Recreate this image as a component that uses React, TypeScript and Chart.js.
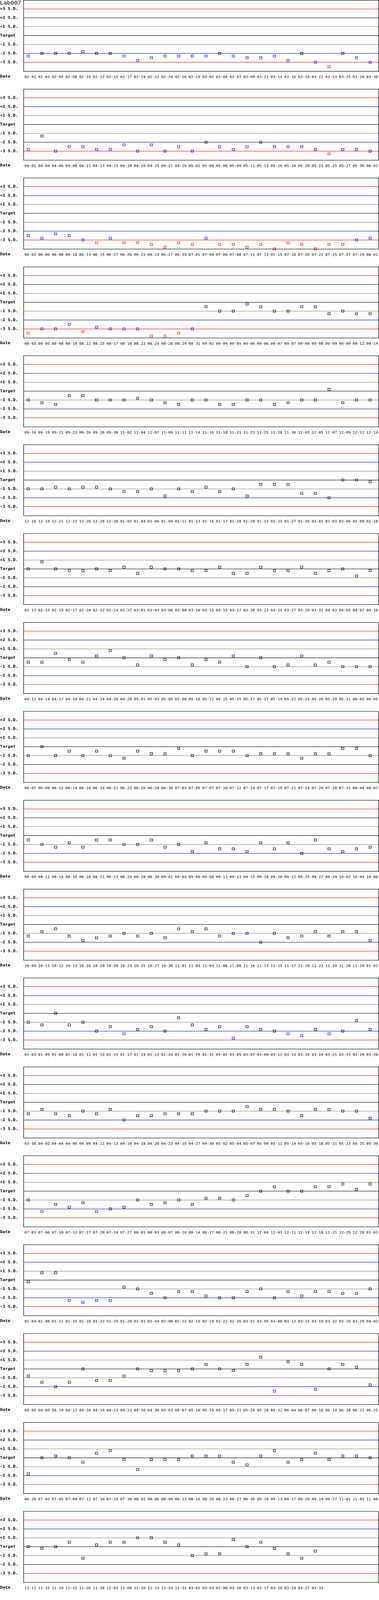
import React, { useEffect, useRef, useState } from 'react';
import { Chart, registerables } from 'chart.js';

Chart.register(...registerables);

// ---------- data ----------
const TITLE = 'Lab007';
const AXIS_NAME = 'Date';
const SLOTS = 26;
const SD_LEVELS = [3, 2, 1, 0, -1, -2, -3];
const SD_LABELS = ['+3 S.D.', '+2 S.D.', '+1 S.D.', 'Target', '-1 S.D.', '-2 S.D.', '-3 S.D.'];

const dates1 = ['02-01','02-03','02-05','02-08','02-10','02-12','02-15','02-17','02-19','02-22','02-24','02-26','02-29','03-02','03-04','03-07','03-09','03-11','03-14','03-16','03-18','03-21','03-23','03-25','03-28','03-30'];
const values1 = [-2.3,-2,-2,-2,-1.8,-2,-2,-2.3,-2.8,-2.5,-2.3,-2.3,-2.3,-2.3,-2,-2.3,-2.5,-2.5,-2.3,-2.8,-2,-3,-3.5,-2,-2.5,-3];

const dates2 = ['04-01','04-04','04-06','04-08','04-11','04-13','04-15','04-18','04-20','04-25','04-27','04-29','05-02','05-04','05-06','05-09','05-11','05-13','05-16','05-18','05-20','05-23','05-25','05-27','05-30','06-01'];
const values2 = [-2.8,-1.3,-3,-2.5,-2.5,-2.8,-2.8,-2.3,-3,-2.3,-3,-2.5,-3,-2,-2.5,-2.8,-2.5,-2,-2.5,-2.5,-2.5,-2.8,-3.3,-2.8,-2.8,-3];

const dates3 = ['06-03','06-06','06-08','06-10','06-13','06-15','06-17','06-20','06-22','06-24','06-27','06-29','07-01','07-04','07-06','07-08','07-11','07-13','07-15','07-18','07-20','07-22','07-25','07-27','07-29','08-01'];
const values3 = [-2.5,-2.8,-2.3,-2.5,-3,-3.3,-2.8,-3.3,-3.3,-3.5,-3.8,-3.3,-3.5,-2.8,-3.5,-3.5,-3.8,-3.5,-4,-3.3,-3.5,-4,-3.5,-3.5,-3,-2.8];

const dates4 = ['08-03','08-05','08-08','08-10','08-12','08-15','08-17','08-19','08-22','08-24','08-26','08-29','08-31','09-02','09-04','09-05','09-06','09-06','09-07','09-07','09-08','09-08','09-09','09-09','09-12','09-14'];
const values4 = [-3.5,-3,-3,-2.5,-3.3,-2.8,-3,-3,-3,-3.8,-3.8,-3.5,-3,-0.5,-1,-1,-0.2,-0.5,-1,-1,-0.5,-0.5,-1.3,-1,-1.3,-1.3];

const dates5 = ['09-16','09-19','09-21','09-23','09-26','09-28','09-30','11-02','11-04','11-07','11-09','11-11','11-14','11-16','11-18','11-21','11-23','11-25','11-28','11-30','12-02','12-05','12-07','12-09','12-12','12-14'];
const values5 = [-1,-1.3,-1.5,-0.5,-0.5,-1,-1,-1,-0.8,-1,-1.3,-1.5,-1,-1,-1.5,-1.5,-1,-1,-1.5,-1.3,-1,-1,0.2,-1.3,-1,-1];

const dates6 = ['12-16','12-19','12-21','12-23','12-26','12-28','12-30','01-02','01-04','01-06','01-09','01-11','01-13','01-16','01-17','01-18','01-20','01-23','01-25','01-27','01-30','02-01','02-03','02-06','02-08','02-10'];
const values6 = [-1,-1,-0.8,-1,-0.8,-0.8,-1,-1.3,-1.3,-1,-1.8,-1,-1.3,-0.8,-1.3,-1,-1.8,-0.5,-0.5,-0.5,-1.5,-1.5,-2,0,0,-0.2];

const dates7 = ['02-13','02-13','02-15','02-17','02-20','02-22','02-24','02-27','03-01','03-03','03-06','03-08','03-10','03-13','03-15','03-17','03-20','03-22','03-24','03-27','03-29','03-31','04-03','04-05','04-07','04-10'];
const values7 = [0,0.8,0,-0.2,-0.2,0,-0.2,0.2,-0.5,0.2,0,0,-0.2,-0.2,0.2,-0.5,-0.5,0.2,-0.2,-0.2,0.2,-0.5,-0.2,0,-0.8,-0.2];

const dates8 = ['04-12','04-14','04-17','04-19','04-21','04-24','04-26','04-28','05-01','05-03','05-05','05-08','05-10','05-12','05-15','05-15','05-17','05-17','05-19','05-22','05-24','05-26','05-29','05-31','06-02','06-05'];
const values8 = [-0.5,-0.5,0.5,-0.2,-0.5,0.2,0.8,0,-0.8,0.2,-0.2,0,-0.8,-0.2,-0.5,0.2,-1,0,-1,-0.8,0.2,-0.8,-0.5,-1,-1,-1];

const dates9 = ['06-07','06-09','06-12','06-14','06-16','06-19','06-21','06-23','06-26','06-28','06-30','07-03','07-05','07-07','07-10','07-12','07-14','07-17','07-19','07-21','07-24','07-26','07-28','07-31','08-04','08-07'];
const values9 = [-1,0,-1,-0.5,-1,-0.5,-1,-1.3,-0.5,-0.8,-0.8,-0.2,-1,-0.5,-0.5,-0.5,-1,-0.8,-0.8,-0.8,-1.3,-0.8,-0.8,-0.2,-0.2,-1];

const dates10 = ['08-09','08-11','08-14','08-16','08-18','08-21','08-23','08-25','08-28','08-30','09-01','09-04','09-06','09-08','09-11','09-13','09-15','09-18','09-20','09-22','09-25','09-27','09-29','10-02','10-04','10-06'];
const values10 = [-0.5,-1,-1.3,-0.8,-1.3,-0.5,-0.5,-1,-1,-0.5,-1.3,-1,-1.8,-0.8,-1.5,-1.5,-1.8,-0.8,-1.5,-0.8,-2,-0.5,-1.5,-1.8,-1.5,-1.3];

const dates11 = ['10-09','10-11','10-12','10-13','10-16','10-18','10-20','10-23','10-25','10-27','10-30','11-01','11-03','11-03','11-06','11-08','11-10','11-13','11-15','11-17','11-20','11-22','11-24','11-28','11-29','01-01'];
const values11 = [-1.3,-0.8,-0.5,-1.3,-1.8,-1.5,-1.3,-1,-1.3,-1,-1.5,-0.5,-0.8,-0.5,-1.3,-1,-1,-2,-1,-1.5,-1.3,-0.8,-1.3,-0.8,-0.8,-1.8];

const dates12 = ['01-03','01-05','01-08','01-10','01-11','01-12','01-15','01-17','01-19','01-22','01-24','01-26','01-29','01-31','03-02','03-05','03-07','03-09','03-12','03-14','03-16','03-19','03-21','03-23','03-26','03-28'];
const values12 = [-1,-1.3,0,-1.3,-1,-2,-1.5,-2.3,-1.8,-1.5,-2,-0.5,-1.3,-1.8,-1.5,-2.8,-1.5,-1.8,-2,-2.3,-2.5,-1.8,-2.3,-2,-0.8,-1.8];

const dates13 = ['03-30','04-02','04-04','04-06','04-09','04-11','04-13','04-16','04-18','04-20','04-23','04-25','04-27','04-30','05-02','05-04','05-07','05-09','05-11','05-14','05-16','05-18','05-21','05-23','05-25','05-30'];
const values13 = [-1.3,-0.8,-1.3,-1.5,-1,-1.3,-0.8,-2,-1.5,-1.5,-1.3,-1.3,-1.3,-1,-1,-1,-0.5,-0.8,-0.8,-1,-1.5,-0.8,-0.8,-1,-1,-1.8];

const dates14 = ['07-03','07-06','07-10','07-13','07-17','07-20','07-24','07-27','08-01','08-03','08-07','08-10','08-14','08-17','08-21','08-28','08-31','12-04','12-07','12-11','12-14','12-18','12-21','12-25','12-28','01-01'];
const values14 = [-1,-2.3,-1.5,-1.8,-1.3,-2.3,-2,-1.8,-1,-1.5,-1.3,-1,-1.5,-0.8,-0.8,-1,-0.5,0,0.5,0,0,0.5,0.5,0.8,0.2,0.8];

const dates15 = ['01-04','01-08','01-11','01-15','01-18','01-22','01-25','01-29','02-01','02-04','02-08','02-12','02-15','02-19','02-22','02-26','03-01','03-05','03-08','03-12','03-15','03-19','03-22','03-26','03-29','04-02'];
const values15 = [-0.2,0.8,0.8,-2.3,-2.5,-2.3,-2.3,-0.8,-1,-1.5,-2,-1.3,-1.3,-1.8,-2,-2,-1.3,-1,-2,-1.3,-1.8,-1.3,-1.3,-1.5,-1.5,-1];

const dates16 = ['04-05','04-09','04-10','04-12','04-16','04-19','04-23','04-23','04-26','04-30','05-03','05-07','05-10','05-14','05-17','05-21','05-24','05-28','05-31','06-04','06-07','06-10','06-14','06-18','06-21','06-25'];
const values16 = [-0.8,-1.5,-2,-1.5,0,-1.3,-1.3,-0.8,0,-0.2,-0.2,-0.2,0,0.5,0,-0.2,0.5,1.3,-2.5,0.8,0.5,-2.3,0,0.5,0.2,-1.8];

const dates17 = ['06-28','07-02','07-05','07-09','07-12','07-16','07-19','07-30','08-02','08-06','08-09','08-13','08-16','08-20','08-23','08-27','08-30','09-10','09-13','09-17','09-20','09-24','09-27','11-01','11-05','11-08'];
const values17 = [-1.8,0,0.2,0,-0.5,0.5,0.8,-0.2,-1.3,-0.2,-0.2,-0.2,0.2,0.2,0.2,-0.5,-0.8,0.2,0.8,-0.5,-0.2,0.5,-0.2,0.2,0.2,0];

const dates18 = ['11-12','11-15','11-19','11-22','11-26','11-29','12-03','12-06','12-10','12-13','12-24','12-31','03-02','03-03','03-06','03-10','03-13','03-17','03-20','03-24','03-27','03-31'];
const values18 = [0,-0.2,0,0.5,-1.3,0.2,0.5,0.5,1,1,0.5,0.2,-1,-0.8,-0.8,0.8,0,0.5,-0.2,-0.8,-1.3,-0.5];

const PANELS: { dates: string[]; values: number[] }[] = [
  { dates: dates1, values: values1 },
  { dates: dates2, values: values2 },
  { dates: dates3, values: values3 },
  { dates: dates4, values: values4 },
  { dates: dates5, values: values5 },
  { dates: dates6, values: values6 },
  { dates: dates7, values: values7 },
  { dates: dates8, values: values8 },
  { dates: dates9, values: values9 },
  { dates: dates10, values: values10 },
  { dates: dates11, values: values11 },
  { dates: dates12, values: values12 },
  { dates: dates13, values: values13 },
  { dates: dates14, values: values14 },
  { dates: dates15, values: values15 },
  { dates: dates16, values: values16 },
  { dates: dates17, values: values17 },
  { dates: dates18, values: values18 },
];

// ---------- styles ----------
const MONO = '"DejaVu Sans Mono", "Liberation Mono", monospace';
const RED = '#ff0000';
const BLUE = '#0000ff';
const GRAY = '#808080';
const BLACK = '#000000';
const PANEL_W = 970;
const PANEL_H = 250;
const PAGE_H = 4500;
const LINE_W = 1.2;

function lineColor(v: number | undefined): string {
  if (v === undefined) return 'rgba(0,0,0,0)';
  const a = Math.abs(v);
  if (a === 3) return RED;
  if (a === 2) return BLUE;
  if (a === 1) return GRAY;
  return BLACK;
}

function pointColor(v: number): string {
  const a = Math.abs(v);
  if (a > 3.001) return RED;
  if (a > 2.001) return BLUE;
  return BLACK;
}

const framePlugin = {
  id: 'frame',
  afterDraw(chart: any, _args: any, opts: any) {
    const { ctx, chartArea: a } = chart;
    ctx.save();
    ctx.strokeStyle = BLACK;
    ctx.lineWidth = LINE_W;
    const l = Math.round(a.left) + 0.5;
    const t = Math.round(a.top) + 0.6;
    const r = Math.round(a.right) - 0.6;
    const b = Math.round(a.bottom) + 0.5;
    ctx.strokeRect(l, t, r - l, b - t);
    ctx.fillStyle = BLACK;
    ctx.textAlign = 'left';
    ctx.font = `bold 11px ${MONO}`;
    ctx.textBaseline = 'middle';
    if (opts.axisName) ctx.fillText(opts.axisName, 0, a.bottom + 15);
    if (opts.title) {
      ctx.font = `15px ${MONO}`;
      ctx.textBaseline = 'alphabetic';
      ctx.fillText(opts.title, 0, 13);
    }
    ctx.restore();
  },
};

function Panel({ dates, values, title }: { dates: string[]; values: number[]; title?: string }) {
  const ref = useRef<HTMLCanvasElement | null>(null);
  useEffect(() => {
    if (!ref.current) return;
    const labels = Array.from({ length: SLOTS }, (_, i) => dates[i] ?? '');
    const chart = new Chart(ref.current, {
      type: 'scatter',
      data: {
        datasets: [
          {
            data: values.map((v, i) => ({ x: i, y: v })),
            xAxisID: 'xp',
            yAxisID: 'y',
            pointStyle: 'rect',
            pointRadius: 4.25,
            pointHoverRadius: 4.25,
            pointBorderWidth: LINE_W,
            pointBackgroundColor: 'rgba(0,0,0,0)',
            pointBorderColor: values.map(pointColor),
            showLine: false,
            clip: false as any,
          } as any,
        ],
      },
      options: {
        animation: false,
        responsive: true,
        maintainAspectRatio: false,
        devicePixelRatio: 2,
        events: [],
        layout: { padding: 0, autoPadding: false } as any,
        plugins: {
          legend: { display: false },
          tooltip: { enabled: false },
          frame: { title, axisName: AXIS_NAME },
        } as any,
        scales: {
          x: {
            type: 'category',
            labels,
            offset: true,
            position: 'bottom',
            grid: { display: false, drawTicks: false },
            border: { display: false },
            ticks: {
              autoSkip: false,
              maxRotation: 0,
              minRotation: 0,
              padding: 11,
              color: BLACK,
              font: { family: MONO, size: 10 },
            },
            afterFit(s: any) {
              s.height = 50;
              s.paddingLeft = 0;
              s.paddingRight = 0;
            },
          } as any,
          xp: {
            type: 'linear',
            display: false,
            min: -0.35,
            max: SLOTS - 0.35,
          },
          y: {
            type: 'linear',
            position: 'left',
            min: -4,
            max: 4,
            afterBuildTicks(s: any) {
              s.ticks = SD_LEVELS.map((v) => ({ value: v }));
            },
            grid: {
              color: (c: any) => lineColor(c.tick ? c.tick.value : undefined),
              lineWidth: LINE_W,
              drawTicks: false,
            },
            border: { display: false },
            ticks: {
              autoSkip: false,
              crossAlign: 'far',
              padding: 0,
              color: BLACK,
              font: { family: MONO, size: 11, weight: 'bold' },
              callback: (v: any) => {
                const idx = SD_LEVELS.indexOf(Number(v));
                return idx >= 0 ? SD_LABELS[idx] : '';
              },
            },
            afterFit(s: any) {
              s.width = 60;
              s.paddingTop = 0;
              s.paddingBottom = 0;
            },
          } as any,
        },
      },
      plugins: [framePlugin as any],
    });
    return () => chart.destroy();
  }, [dates, values, title]);
  return (
    <div style={{ position: 'relative', width: PANEL_W, height: PANEL_H, overflow: 'hidden' }}>
      <canvas ref={ref} />
    </div>
  );
}

export default function App() {
  // the photographed viewport may be shorter than the page; fit the whole page into it
  const [fit, setFit] = useState(1);
  useEffect(() => {
    const ih = window.innerHeight || PAGE_H;
    setFit(Math.min(1, ih / PAGE_H));
  }, []);
  return (
    <div style={{ width: PANEL_W, height: PAGE_H * fit, overflow: 'hidden', background: '#fff' }}>
      <style>{`html,body{margin:0;padding:0;background:#fff;}`}</style>
      <div style={{ width: PANEL_W, height: PAGE_H, transform: `scaleY(${fit})`, transformOrigin: '0 0' }}>
        {PANELS.map((p, i) => (
          <Panel key={i} dates={p.dates} values={p.values} title={i === 0 ? TITLE : undefined} />
        ))}
      </div>
    </div>
  );
}
